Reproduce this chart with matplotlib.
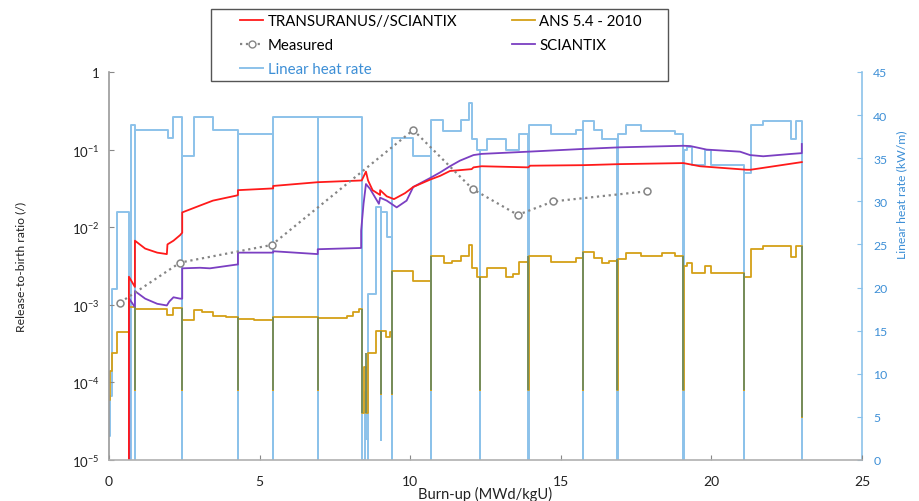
import matplotlib
matplotlib.use("Agg")
import matplotlib.pyplot as plt
from matplotlib.patches import Rectangle
from matplotlib.lines import Line2D

plt.rcParams['font.family'] = ['Lato', 'DejaVu Sans']
plt.rcParams['mathtext.fontset'] = 'custom'
plt.rcParams['mathtext.rm'] = 'Lato'

# linear heat rate history (step start burn-up, kW/m)
lhr_bu = [0.00, 0.03, 0.09, 0.26, 0.66, 0.72, 0.86, 0.87, 1.96, 2.12, 2.42, 2.43,
          2.82, 3.45, 4.28, 4.29, 5.44, 5.45, 6.93, 6.94, 8.41, 8.50, 8.53, 8.59,
          8.60, 8.88, 9.02, 9.03, 9.22, 9.39, 9.40, 10.08, 10.69, 10.70, 11.09, 11.68,
          11.96, 12.04, 12.23, 12.32, 12.33, 12.54, 13.18, 13.61, 13.92, 13.93, 14.66, 15.50,
          15.73, 15.74, 16.10, 16.36, 16.88, 16.89, 17.16, 17.65, 18.79, 19.07, 19.08, 19.20,
          19.35, 19.77, 19.99, 21.08, 21.09, 21.30, 21.72, 22.63, 22.80, 23.00]
lhr_val = [2.8, 7.4, 19.8, 28.8, 0.0, 38.8, 0.0, 38.3, 37.4, 39.8, 0.0, 35.3,
           39.8, 38.3, 0.0, 37.8, 0.0, 39.8, 0.0, 39.8, 0.0, 7.9, 2.4, 0.0,
           19.3, 29.3, 2.3, 28.8, 25.9, 0.0, 37.4, 35.3, 0.0, 39.4, 38.2, 39.4,
           41.4, 37.2, 35.9, 0.0, 35.9, 37.2, 35.9, 37.8, 0.0, 38.8, 37.8, 38.3,
           0.0, 39.3, 38.3, 37.2, 0.0, 37.8, 38.8, 38.2, 37.8, 0.0, 35.9, 36.3,
           34.2, 35.9, 34.2, 0.0, 33.3, 38.8, 39.3, 37.2, 39.3, 0.0]

# ANS 5.4 - 2010 release-to-birth ratio (step start burn-up, R/B)
ans_bu = [0.00, 0.02, 0.09, 0.26, 0.66, 0.86, 0.87, 1.92, 2.14, 2.42, 2.43, 2.83,
          3.10, 3.45, 3.90, 4.28, 4.29, 4.80, 5.44, 5.45, 6.93, 6.94, 7.72, 7.90,
          8.10, 8.30, 8.41, 8.45, 8.53, 8.60, 8.88, 9.02, 9.03, 9.20, 9.33, 9.39,
          9.40, 10.08, 10.69, 10.70, 11.12, 11.40, 11.68, 11.96, 12.04, 12.23, 12.32, 12.33,
          12.54, 13.18, 13.40, 13.61, 13.92, 13.93, 14.66, 15.50, 15.73, 15.74, 16.10, 16.36,
          16.60, 16.88, 16.89, 17.16, 17.65, 18.35, 18.79, 19.07, 19.08, 19.20, 19.35, 19.77,
          19.99, 21.08, 21.09, 21.30, 21.72, 22.63, 22.80, 23.00, 23.01]
ans_val = [6e-5, 1.4e-4, 2.4e-4, 4.4e-4, 9.3e-4, 8e-5, 8.9e-4, 7.4e-4, 9.0e-4, 8e-5, 6.3e-4, 8.5e-4,
           8.0e-4, 7.2e-4, 6.9e-4, 8e-5, 6.6e-4, 6.3e-4, 8e-5, 7.0e-4, 8e-5, 6.8e-4, 6.7e-4, 7.2e-4,
           8.0e-4, 8.9e-4, 4e-5, 1.6e-4, 4e-5, 2.4e-4, 4.6e-4, 7e-5, 4.6e-4, 3.9e-4, 4.5e-4, 7e-5,
           2.75e-3, 2.0e-3, 8e-5, 4.2e-3, 3.5e-3, 3.7e-3, 4.3e-3, 5.9e-3, 3.0e-3, 2.3e-3, 8e-5, 2.3e-3,
           3.0e-3, 2.3e-3, 2.5e-3, 3.6e-3, 8e-5, 4.3e-3, 3.6e-3, 4.0e-3, 8e-5, 4.8e-3, 4.0e-3, 3.5e-3,
           3.7e-3, 8e-5, 3.9e-3, 4.7e-3, 4.3e-3, 4.7e-3, 4.3e-3, 8e-5, 3.2e-3, 3.5e-3, 2.6e-3, 3.2e-3,
           2.6e-3, 8e-5, 2.26e-3, 5.2e-3, 5.7e-3, 4.1e-3, 5.7e-3, 3.6e-5, 1.4e-4]

# TRANSURANUS//SCIANTIX
tu_bu = [0.66, 0.66, 0.86, 0.86, 1.20, 1.60, 1.92, 1.94, 2.14, 2.36, 2.43, 2.43,
         3.02, 3.45, 4.24, 4.28, 4.28, 5.45, 5.45, 6.93, 8.39, 8.53, 8.60, 8.75,
         9.00, 9.00, 9.22, 9.46, 9.83, 10.10, 10.66, 11.00, 11.32, 12.04, 12.10, 12.37,
         13.92, 13.98, 15.75, 16.97, 19.07, 19.62, 21.17, 21.30, 23.00]
tu_rb = [1e-6, 2.3e-3, 1.7e-3, 6.7e-3, 5.3e-3, 4.7e-3, 4.5e-3, 6.0e-3, 6.7e-3, 7.9e-3, 8.5e-3, 0.0155,
         0.019, 0.022, 0.0256, 0.026, 0.030, 0.0316, 0.034, 0.038, 0.040, 0.052, 0.040, 0.030,
         0.026, 0.030, 0.025, 0.023, 0.0275, 0.033, 0.041, 0.046, 0.053, 0.056, 0.059, 0.061,
         0.059, 0.062, 0.063, 0.065, 0.067, 0.061, 0.055, 0.055, 0.069]

# SCIANTIX
sc_bu = [0.67, 0.67, 0.86, 0.86, 1.20, 1.60, 1.92, 2.00, 2.14, 2.36, 2.43, 2.43,
         3.02, 3.35, 4.24, 4.28, 4.28, 5.45, 5.45, 6.93, 6.93, 8.37, 8.37, 8.45,
         8.53, 8.67, 8.96, 9.00, 9.22, 9.55, 9.88, 10.10, 10.66, 11.00, 11.32, 11.65,
         12.10, 12.37, 13.92, 15.75, 16.97, 19.07, 19.30, 19.84, 20.95, 21.28, 21.72, 22.66,
         23.00, 23.00]
sc_rb = [1e-6, 1.2e-3, 9.3e-4, 1.5e-3, 1.2e-3, 1.03e-3, 9.8e-4, 1.1e-3, 1.25e-3, 1.2e-3, 1.2e-3, 2.95e-3,
         3.0e-3, 2.95e-3, 3.3e-3, 3.3e-3, 4.7e-3, 4.7e-3, 4.9e-3, 4.5e-3, 5.2e-3, 5.4e-3, 9.0e-3, 0.020,
         0.036, 0.031, 0.020, 0.024, 0.022, 0.018, 0.022, 0.033, 0.043, 0.051, 0.061, 0.072,
         0.085, 0.088, 0.094, 0.102, 0.107, 0.112, 0.111, 0.100, 0.094, 0.085, 0.082, 0.088,
         0.090, 0.118]

# measured R/B
meas_bu = [0.37, 2.36, 5.40, 10.10, 12.07, 13.57, 14.75, 17.85]
meas_rb = [1.07e-3, 3.5e-3, 5.9e-3, 0.179, 0.031, 0.0144, 0.0215, 0.029]

c_blue = '#8cc2ea'
c_gold = '#d4a017'
c_green = '#6e8c62'
c_red = '#ff1a1a'
c_purple = '#7b3fc2'
c_meas = '#858585'
c_axis_blue = '#3d8fd6'

fig, ax = plt.subplots(figsize=(9.2, 5.02), dpi=100)
fig.subplots_adjust(left=0.1185, right=0.937, bottom=0.0817, top=0.8546)
ax2 = ax.twinx()

# heat rate on the secondary axis, kept behind the R/B curves
ax2.plot(lhr_bu, lhr_val, drawstyle='steps-post', color=c_blue, lw=1.4)
ax.set_zorder(ax2.get_zorder() + 1)
ax.patch.set_visible(False)

ax.plot(ans_bu, ans_val, drawstyle='steps-post', color=c_gold, lw=1.3)
# shutdown drops of the ANS curve
floor = 1e-4
for i in range(1, len(ans_val)):
    if ans_val[i] < floor:
        top = max(ans_val[i - 1], ans_val[i + 1] if i + 1 < len(ans_val) else 0)
        ax.vlines(ans_bu[i], ans_val[i], top, color=c_green, lw=1.3, zorder=2.5)

ax.plot(sc_bu, sc_rb, color=c_purple, lw=1.3)
ax.plot(tu_bu, tu_rb, color=c_red, lw=1.3)
ax.plot(meas_bu, meas_rb, ':', color=c_meas, lw=1.6, marker='o', ms=5,
        mfc='white', mec=c_meas, mew=1.1)

ax.set_yscale('log')
ax.set_ylim(1e-5, 1)
ax.set_xlim(0, 25)
ax2.set_ylim(0, 45)

ax.set_yticks([1e-5, 1e-4, 1e-3, 1e-2, 1e-1, 1],
              ['10$^{-5}$', '10$^{-4}$', '10$^{-3}$', '10$^{-2}$', '10$^{-1}$', '1'])
ax.yaxis.set_minor_locator(matplotlib.ticker.NullLocator())
ax.set_xticks([0, 5, 10, 15, 20, 25])
ax2.set_yticks(range(0, 46, 5))

ax.tick_params(axis='both', direction='in', length=3.5, width=0.8, color='#888888',
               labelsize=10, labelcolor='#222222')
ax.tick_params(axis='y', labelsize=9.5, pad=6.5)
ax.tick_params(axis='x', pad=11)
ax2.tick_params(axis='y', direction='in', length=3.5, width=0.8, color=c_blue,
                labelsize=8.8, labelcolor=c_axis_blue, pad=8)

for a in (ax, ax2):
    a.spines['top'].set_visible(False)
ax.spines['right'].set_visible(False)
ax2.spines['left'].set_visible(False)
ax2.spines['bottom'].set_visible(False)
ax.spines['left'].set_color('#9a9a9a')
ax.spines['bottom'].set_color('#b0b0b0')
ax2.spines['right'].set_color(c_blue)
for s in ('left', 'bottom'):
    ax.spines[s].set_linewidth(1.2)
ax2.spines['right'].set_linewidth(1.2)

ax.set_xlabel('Burn-up (MWd/kgU)', fontsize=10.5, color='#222222')
ax.xaxis.set_label_coords(0.5, -0.068)
ax.set_ylabel('Release-to-birth ratio (/)', fontsize=8.8, color='#222222')
ax.yaxis.set_label_coords(-0.11, 0.5)
ax2.set_ylabel('Linear heat rate (kW/m)', fontsize=8.8, color=c_axis_blue)
ax2.yaxis.set_label_coords(1.046, 0.686)

handles = [Line2D([], [], color=c_red, lw=1.3),
           Line2D([], [], color=c_meas, ls=':', lw=1.6, marker='o', ms=5, mfc='white', mec=c_meas),
           Line2D([], [], color=c_blue, lw=1.4),
           Line2D([], [], color=c_gold, lw=1.3),
           Line2D([], [], color=c_purple, lw=1.3)]
labels = ['TRANSURANUS//SCIANTIX', 'Measured', 'Linear heat rate',
          'ANS 5.4 - 2010', 'SCIANTIX']
leg = fig.legend(handles, labels, ncol=2, loc='upper left', bbox_to_anchor=(0.2609, 0.970),
                 frameon=False, fontsize=10.8, handlelength=1.53, handletextpad=0.33,
                 columnspacing=3.6, labelspacing=0.67, borderpad=0, borderaxespad=0)
leg.get_texts()[2].set_color(c_axis_blue)
fig.patches.append(Rectangle((0.229, 0.837), 0.497, 0.143, transform=fig.transFigure,
                             fill=False, edgecolor='#555555', lw=1.0))

fig.savefig('out.png', dpi=100)
